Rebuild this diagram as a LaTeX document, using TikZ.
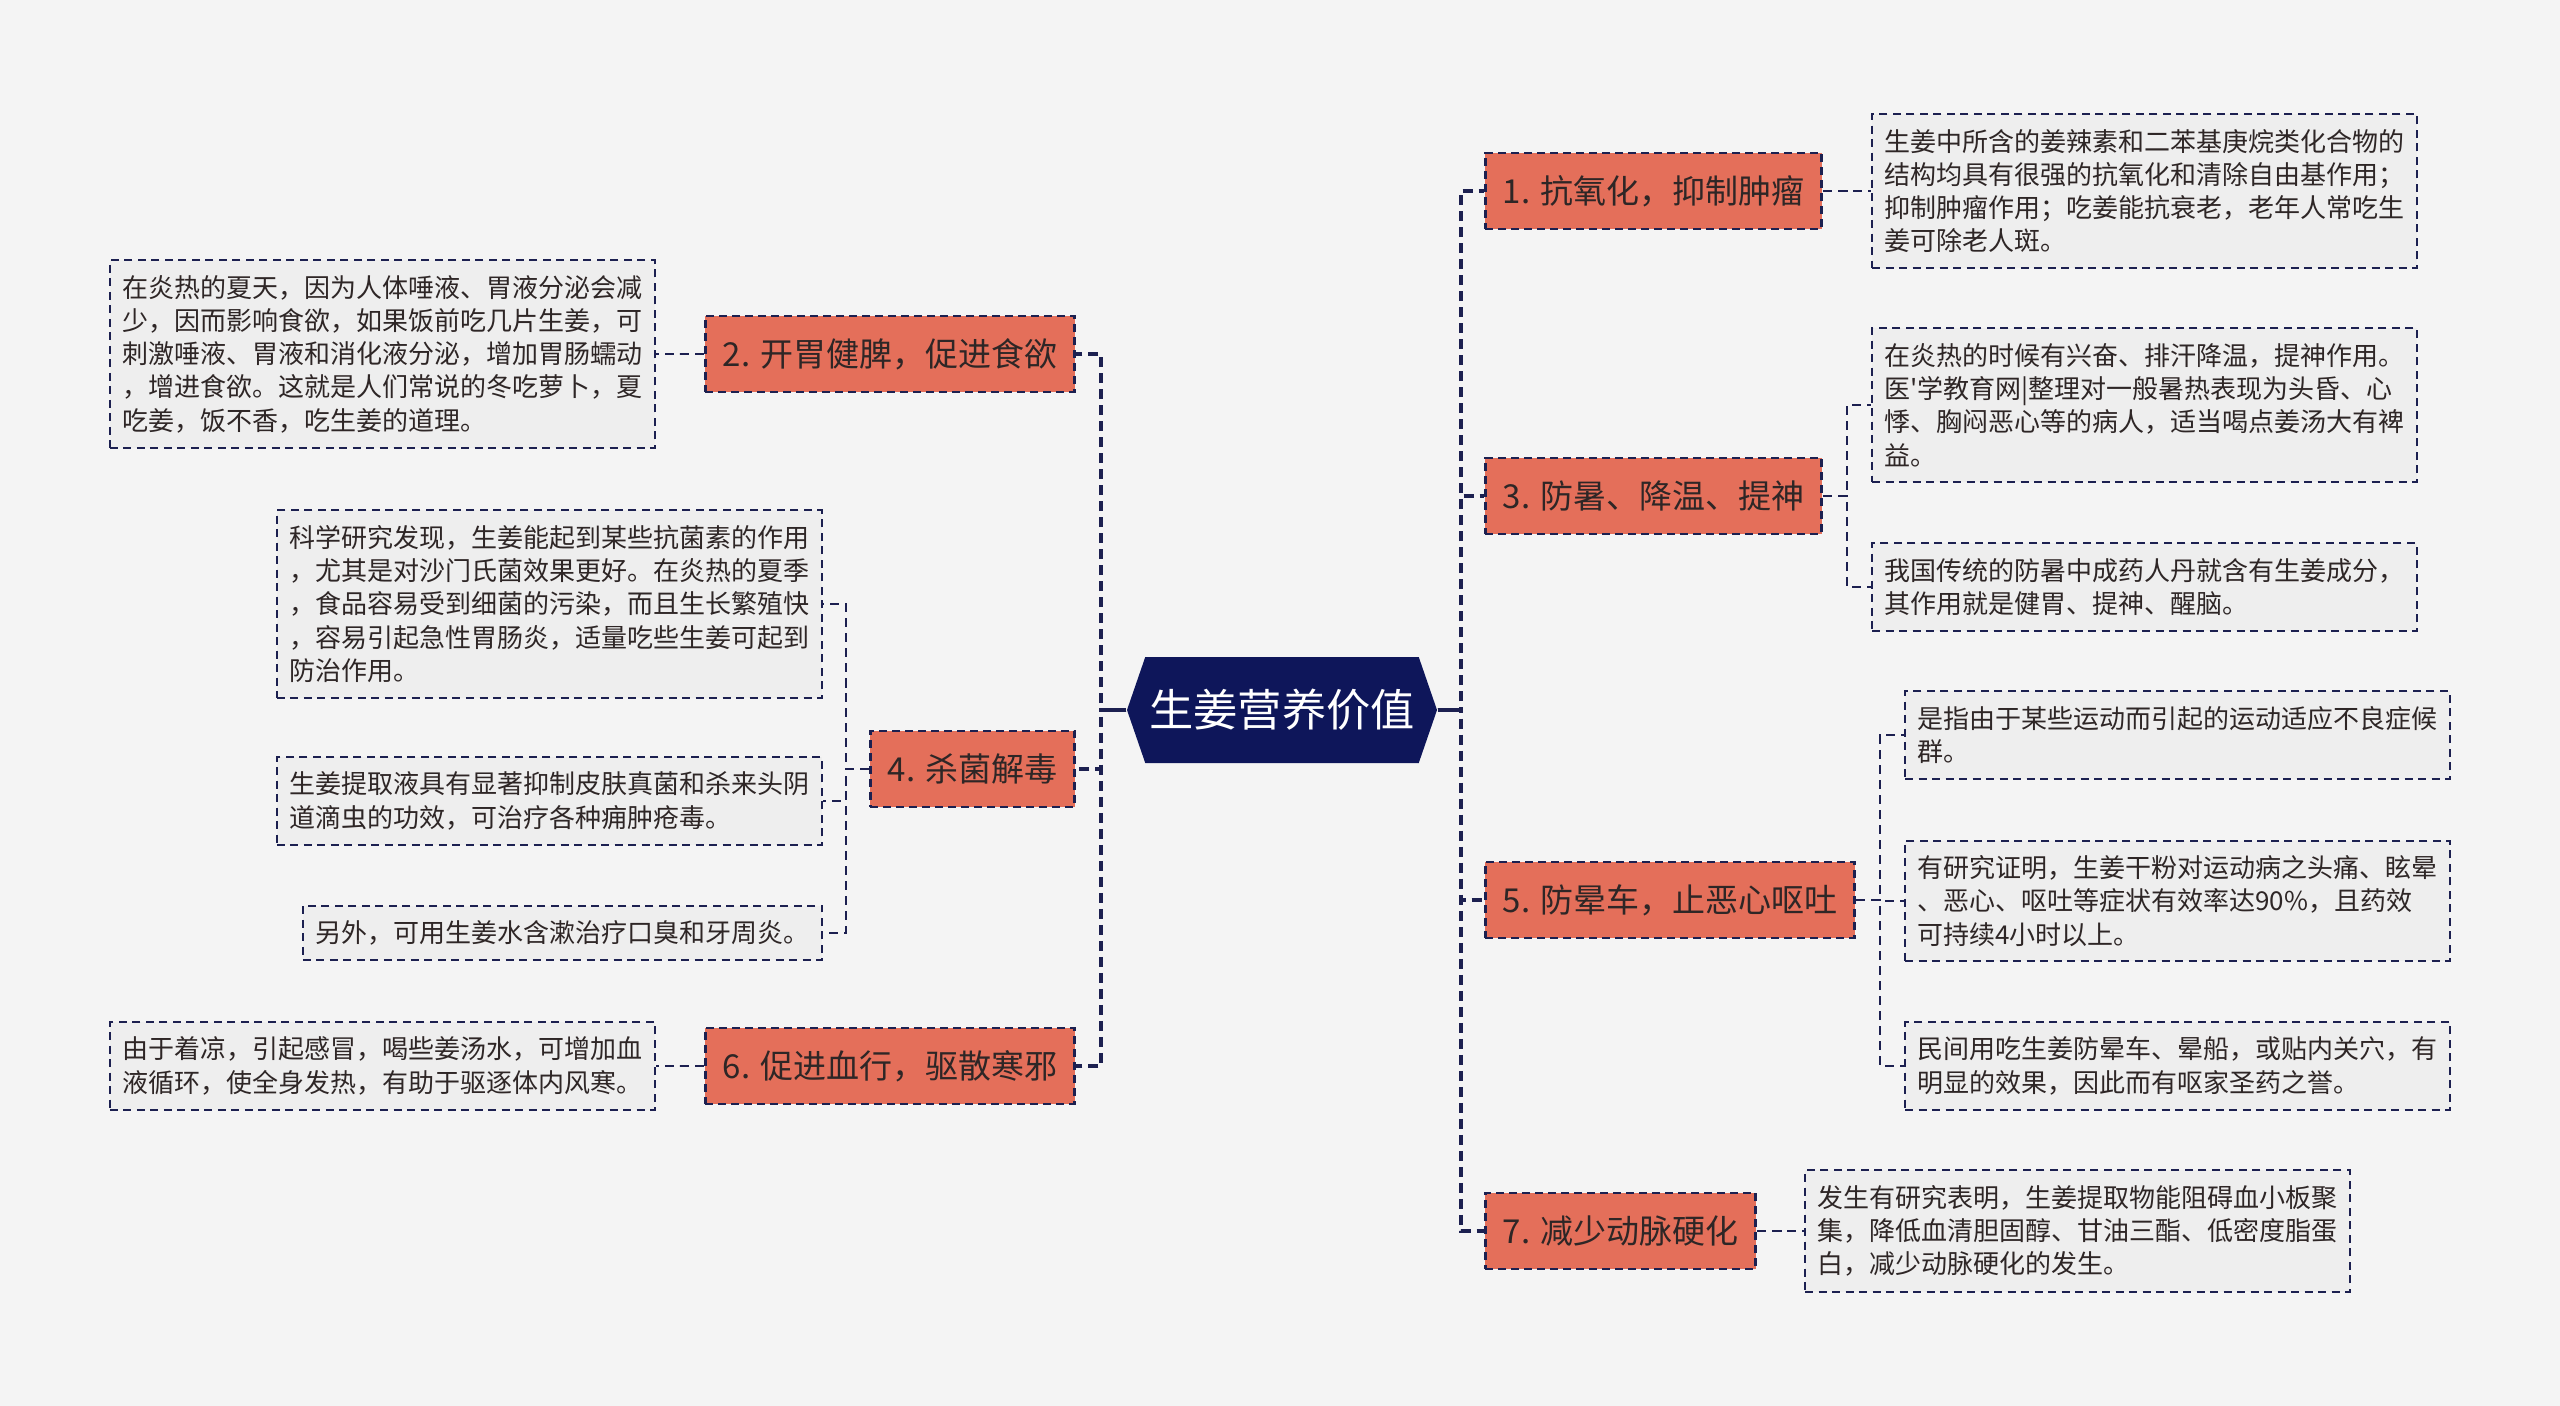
\documentclass[tikz,border=0pt]{standalone}
\usepackage{fontspec}
\setmainfont{Noto Sans CJK SC}
\newfontfamily\plaincjk{Noto Sans CJK SC}
\usetikzlibrary{shapes.symbols, positioning, calc}

\definecolor{bgcol}{HTML}{F4F4F4}
\definecolor{navy}{HTML}{0E165A}
\definecolor{linecol}{HTML}{1C2050}
\definecolor{salmon}{HTML}{E46F5A}
\definecolor{notefill}{HTML}{EEEEEE}
\definecolor{inktext}{HTML}{2E2626}

\begin{document}
\begin{tikzpicture}[
    x=0.4pt, y=-0.4pt,
    rootnode/.style={signal, signal to=west and east, signal pointer angle=142, fill=navy, text=white, minimum width=124pt, minimum height=42.4pt, inner sep=0pt, font=\fontsize{17.7}{20}\selectfont},
    topic/.style={draw=linecol, dash pattern=on 3.2pt off 2pt, line width=1.1pt, fill=salmon, text=inktext, minimum height=30.4pt, inner xsep=7pt, font=\fontsize{13.2}{15}\selectfont},
    note/.style={draw=linecol, dash pattern=on 3.2pt off 2.2pt, line width=0.8pt, fill=notefill, text=inktext, align=left, inner xsep=5pt, inner ysep=6pt, font=\plaincjk\fontsize{10.4}{13.3}\selectfont},
    trunk/.style={draw=linecol, dash pattern=on 4pt off 2.4pt, line width=1.6pt},
    link/.style={draw=linecol, dash pattern=on 3.6pt off 2.4pt, line width=0.9pt},
    stem/.style={draw=linecol, line width=1.3pt},
    elbow/.style={to path={-| ($(\tikztostart)!.5!(\tikztotarget)$) |- (\tikztotarget)}}
]
\fill[bgcol] (0,0) rectangle (2560,1406);

% centre
\node[rootnode] (root) at (1282,710) {生姜营养价值};

% right topics
\node[topic, anchor=west] (b1) at (1484,191) {1. 抗氧化，抑制肿瘤};
\node[topic, anchor=west] (b3) at (1484,496) {3. 防暑、降温、提神};
\node[topic, anchor=west] (b5) at (1484,900) {5. 防晕车，止恶心呕吐};
\node[topic, anchor=west] (b7) at (1484,1231) {7. 减少动脉硬化};

% left topics
\node[topic, anchor=east] (b2) at (1076,354) {2. 开胃健脾，促进食欲};
\node[topic, anchor=east] (b4) at (1076,769) {4. 杀菌解毒};
\node[topic, anchor=east] (b6) at (1076,1066) {6. 促进血行，驱散寒邪};

% notes, right
\node[note, anchor=west] (n1) at (1871,191) {生姜中所含的姜辣素和二苯基庚烷类化合物的\\结构均具有很强的抗氧化和清除自由基作用；\\抑制肿瘤作用；吃姜能抗衰老，老年人常吃生\\姜可除老人斑。};
\node[note, anchor=west] (n3a) at (1871,405) {在炎热的时候有兴奋、排汗降温，提神作用。\\医'学教育网|整理对一般暑热表现为头昏、心\\悸、胸闷恶心等的病人，适当喝点姜汤大有裨\\益。};
\node[note, anchor=west] (n3b) at (1871,587) {我国传统的防暑中成药人丹就含有生姜成分，\\其作用就是健胃、提神、醒脑。};
\node[note, anchor=west] (n5a) at (1904,735) {是指由于某些运动而引起的运动适应不良症候\\群。};
\node[note, anchor=west] (n5b) at (1904,901) {有研究证明，生姜干粉对运动病之头痛、眩晕\\、恶心、呕吐等症状有效率达90\%，且药效\\可持续4小时以上。};
\node[note, anchor=west] (n5c) at (1904,1066) {民间用吃生姜防晕车、晕船，或贴内关穴，有\\明显的效果，因此而有呕家圣药之誉。};
\node[note, anchor=west] (n7) at (1804,1231) {发生有研究表明，生姜提取物能阻碍血小板聚\\集，降低血清胆固醇、甘油三酯、低密度脂蛋\\白，减少动脉硬化的发生。};

% notes, left
\node[note, anchor=east] (n2) at (656,354) {在炎热的夏天，因为人体唾液、胃液分泌会减\\少，因而影响食欲，如果饭前吃几片生姜，可\\刺激唾液、胃液和消化液分泌，增加胃肠蠕动\\，增进食欲。这就是人们常说的冬吃萝卜，夏\\吃姜，饭不香，吃生姜的道理。};
\node[note, anchor=east] (n4a) at (823,604) {科学研究发现，生姜能起到某些抗菌素的作用\\，尤其是对沙门氏菌效果更好。在炎热的夏季\\，食品容易受到细菌的污染，而且生长繁殖快\\，容易引起急性胃肠炎，适量吃些生姜可起到\\防治作用。};
\node[note, anchor=east] (n4b) at (823,801) {生姜提取液具有显著抑制皮肤真菌和杀来头阴\\道滴虫的功效，可治疗各种痈肿疮毒。};
\node[note, anchor=east] (n4c) at (823,933) {另外，可用生姜水含漱治疗口臭和牙周炎。};
\node[note, anchor=east] (n6) at (656,1066) {由于着凉，引起感冒，喝些姜汤水，可增加血\\液循环，使全身发热，有助于驱逐体内风寒。};

% connectors
\foreach \b in {b2,b4,b6}
    \draw[trunk] (root.west) to[elbow] (\b.east);
\foreach \b in {b1,b3,b5,b7}
    \draw[trunk] (root.east) to[elbow] (\b.west);
\draw[stem] (root.west) -- ($(root.west)!.5!(b2.east |- root.west)$);
\draw[stem] (root.east) -- ($(root.east)!.5!(b1.west |- root.east)$);

\draw[link] (b1.east) to[elbow] (n1.west);
\foreach \n in {n3a,n3b}
    \draw[link] (b3.east) to[elbow] (\n.west);
\foreach \n in {n5a,n5b,n5c}
    \draw[link] (b5.east) to[elbow] (\n.west);
\draw[link] (b7.east) to[elbow] (n7.west);
\draw[link] (b2.west) to[elbow] (n2.east);
\foreach \n in {n4a,n4b,n4c}
    \draw[link] (b4.west) to[elbow] (\n.east);
\draw[link] (b6.west) to[elbow] (n6.east);
\end{tikzpicture}
\end{document}
